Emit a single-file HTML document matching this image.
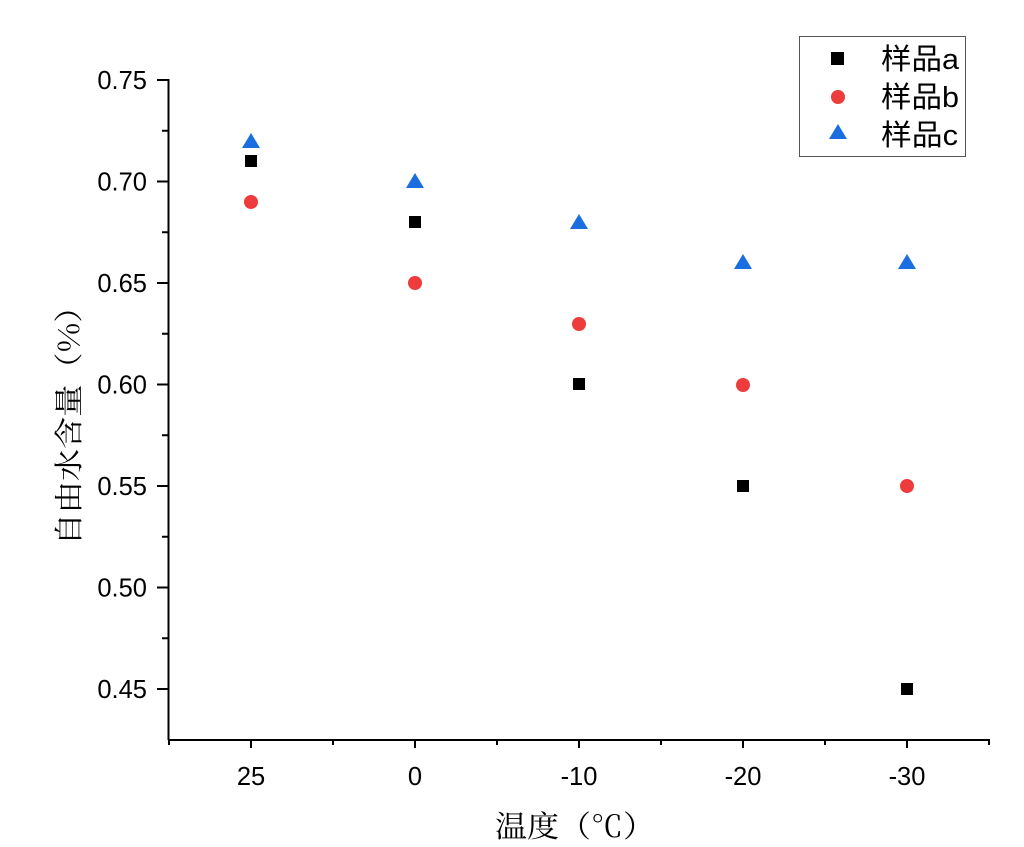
<!DOCTYPE html>
<html><head><meta charset="utf-8"><style>
html,body{margin:0;padding:0;background:#fff;}
svg{display:block}
</style></head><body>
<svg width="1024" height="847" viewBox="0 0 1024 847" xmlns="http://www.w3.org/2000/svg">
<g stroke="#000" stroke-width="2" fill="none">
<line x1="168.5" y1="79" x2="168.5" y2="740"/>
<line x1="168" y1="740" x2="990" y2="740"/>
<line x1="157" y1="80" x2="168" y2="80"/>
<line x1="157" y1="181.5" x2="168" y2="181.5"/>
<line x1="157" y1="283" x2="168" y2="283"/>
<line x1="157" y1="384.5" x2="168" y2="384.5"/>
<line x1="157" y1="486" x2="168" y2="486"/>
<line x1="157" y1="587.5" x2="168" y2="587.5"/>
<line x1="157" y1="689" x2="168" y2="689"/>
<line x1="162" y1="130.75" x2="168" y2="130.75"/>
<line x1="162" y1="232.25" x2="168" y2="232.25"/>
<line x1="162" y1="333.75" x2="168" y2="333.75"/>
<line x1="162" y1="435.25" x2="168" y2="435.25"/>
<line x1="162" y1="536.75" x2="168" y2="536.75"/>
<line x1="162" y1="638.25" x2="168" y2="638.25"/>
<line x1="251" y1="740" x2="251" y2="748"/>
<line x1="415" y1="740" x2="415" y2="748"/>
<line x1="579" y1="740" x2="579" y2="748"/>
<line x1="743" y1="740" x2="743" y2="748"/>
<line x1="907" y1="740" x2="907" y2="748"/>
<line x1="169" y1="740" x2="169" y2="745"/>
<line x1="333" y1="740" x2="333" y2="745"/>
<line x1="497" y1="740" x2="497" y2="745"/>
<line x1="661" y1="740" x2="661" y2="745"/>
<line x1="825" y1="740" x2="825" y2="745"/>
<line x1="989" y1="740" x2="989" y2="745"/>
</g>
<g font-family="Liberation Sans, sans-serif" font-size="25.5" fill="#000" text-anchor="end">
<text x="147" y="89">0.75</text>
<text x="147" y="190.5">0.70</text>
<text x="147" y="292">0.65</text>
<text x="147" y="393.5">0.60</text>
<text x="147" y="495">0.55</text>
<text x="147" y="596.5">0.50</text>
<text x="147" y="698">0.45</text>
</g>
<g font-family="Liberation Sans, sans-serif" font-size="25.5" fill="#000" text-anchor="middle">
<text x="251" y="785">25</text>
<text x="415" y="785">0</text>
<text x="579" y="785">-10</text>
<text x="743" y="785">-20</text>
<text x="907" y="785">-30</text>
</g>
<text x="575" y="837" text-anchor="middle" font-family="Noto Serif CJK SC, serif" font-size="30" fill="#000" textLength="160" lengthAdjust="spacingAndGlyphs">温度（℃）</text>
<text transform="translate(79,418) rotate(-90)" text-anchor="middle" font-family="Noto Serif CJK SC, serif" font-size="29" fill="#000" textLength="255" lengthAdjust="spacingAndGlyphs">自由水含量（%）</text>
<g fill="#000">
<rect x="245" y="155" width="12" height="12"/>
<rect x="409" y="216" width="12" height="12"/>
<rect x="573" y="378" width="12" height="12"/>
<rect x="737" y="480" width="12" height="12"/>
<rect x="901" y="683" width="12" height="12"/>
</g>
<g fill="#ee3b3b">
<circle cx="251" cy="202" r="7"/>
<circle cx="415" cy="283" r="7"/>
<circle cx="579" cy="324" r="7"/>
<circle cx="743" cy="385" r="7"/>
<circle cx="907" cy="486" r="7"/>
</g>
<g fill="#1a6ee0">
<polygon points="251,133 242,148 260,148"/>
<polygon points="415,173 406,188 424,188"/>
<polygon points="579,214 570,229 588,229"/>
<polygon points="743,254 734,269 752,269"/>
<polygon points="907,254 898,269 916,269"/>
</g>
<rect x="799.5" y="36.5" width="166" height="120" fill="#fff" stroke="#555" stroke-width="1"/>
<rect x="831" y="52" width="13" height="13" fill="#000"/>
<circle cx="838" cy="97" r="7" fill="#ee3b3b"/>
<polygon points="838,124 829,139 847,139" fill="#1a6ee0"/>
<g font-family="Liberation Sans, Noto Sans CJK SC, sans-serif" font-size="29" fill="#000">
<text x="881" y="69" textLength="78" lengthAdjust="spacingAndGlyphs">样品a</text>
<text x="881" y="107" textLength="78" lengthAdjust="spacingAndGlyphs">样品b</text>
<text x="881" y="145" textLength="77" lengthAdjust="spacingAndGlyphs">样品c</text>
</g>
</svg>
</body></html>
